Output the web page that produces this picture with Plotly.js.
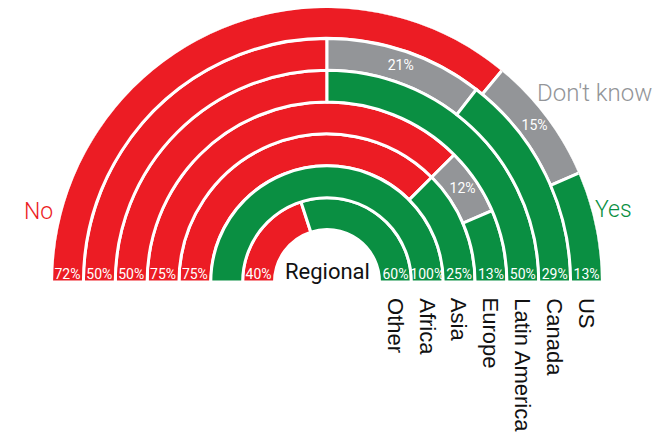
<!DOCTYPE html>
<html>
<head>
<meta charset="utf-8">
<script src="https://cdn.plot.ly/plotly-3.0.1.min.js"></script>
<style>html,body{margin:0;padding:0;background:#fff}</style>
</head>
<body>
<div id="chart" style="width:667px;height:435px"></div>
<script>
// Survey answers by region, one ring per region (innermost first), in percent
const categories = ['Other', 'Africa', 'Asia', 'Europe', 'Latin America', 'Canada', 'US'];
const noPct = [40, 0, 75, 75, 50, 50, 72];
const dontKnowPct = [0, 0, 0, 12, 0, 21, 15];
const yesPct = [60, 100, 25, 13, 50, 29, 13];
const centerLabel = 'Regional';
const answerLabels = ['No', "Don't know", 'Yes'];

const COLORS = { no: '#ec1c24', dk: '#939598', yes: '#0a8f42' };
const HOLE = 52.5;          // radial start of the innermost ring
const STEP = 31.85;         // radial thickness of one ring (incl. white gap)
const R_MAX = 274;          // radial axis extent
const DEG_PER_PCT = 180 / 100;
const LINE_W = 3;

const noStart = noPct.map(() => 0);
const dkStart = noPct.slice();
const yesStart = noPct.map((v, i) => v + dontKnowPct[i]);

function ringMid(i) { return HOLE + i * STEP + STEP / 2; }

function ringBars(name, values, starts, color) {
  const theta = [], width = [], base = [], r = [];
  values.forEach((v, i) => {
    if (v <= 0) return;
    theta.push((starts[i] + v / 2) * DEG_PER_PCT);
    width.push(v * DEG_PER_PCT);
    base.push(HOLE + i * STEP);
    r.push(STEP);
  });
  return {
    type: 'barpolar', name, theta, width, base, r,
    marker: { color, line: { color: '#ffffff', width: LINE_W } },
    hoverinfo: 'skip', showlegend: false
  };
}

const pctFont = { family: 'Roboto, sans-serif', size: 14, color: '#ffffff' };

function endLabels(values, thetaPos) {
  const r = [], theta = [], text = [];
  values.forEach((v, i) => {
    if (v <= 0) return;
    r.push(ringMid(i)); theta.push(thetaPos); text.push(v + '%');
  });
  return {
    type: 'scatterpolar', mode: 'text', r, theta, text,
    textposition: 'top center', cliponaxis: false, textfont: pctFont,
    hoverinfo: 'skip', showlegend: false
  };
}

function dkLabels() {
  const r = [], theta = [], text = [];
  dontKnowPct.forEach((v, i) => {
    if (v <= 0) return;
    r.push(ringMid(i));
    theta.push((dkStart[i] + v / 2) * DEG_PER_PCT);
    text.push(v + '%');
  });
  return {
    type: 'scatterpolar', mode: 'text', r, theta, text,
    textposition: 'middle center', cliponaxis: false, textfont: pctFont,
    hoverinfo: 'skip', showlegend: false
  };
}

const traces = [
  ringBars('No', noPct, noStart, COLORS.no),
  ringBars("Don't know", dontKnowPct, dkStart, COLORS.dk),
  ringBars('Yes', yesPct, yesStart, COLORS.yes),
  endLabels(noPct, 0),
  endLabels(yesPct, 180),
  dkLabels(),
  // anchors the flat x/y frame used for the labels around the half-disc
  { type: 'scatter', x: [], y: [], xaxis: 'x', yaxis: 'y', hoverinfo: 'skip', showlegend: false }
];

const domX = [53 / 667, 601 / 667];
const domY = [153 / 435, 427 / 435];

const annotations = categories.map((c, i) => ({
  xref: 'x', yref: 'y', x: ringMid(i), y: 0,
  text: c, showarrow: false, textangle: 90,
  xanchor: 'center', yanchor: 'top', yshift: -14,
  font: { family: '"Liberation Sans", Arial, sans-serif', size: 22, color: '#111111' }
}));

annotations.push(
  { xref: 'x', yref: 'y', x: 0, y: 0, yanchor: 'bottom', xanchor: 'center', showarrow: false, yshift: -4,
    text: centerLabel, font: { family: 'Roboto, sans-serif', size: 22, color: '#111111' } },
  { xref: 'paper', yref: 'paper', x: 38 / 667, y: 224 / 435, xanchor: 'center', yanchor: 'middle', showarrow: false,
    text: answerLabels[0], font: { family: 'Roboto, sans-serif', size: 23, color: COLORS.no, weight: 300 } },
  { xref: 'x', yref: 'y', x: 208, y: 189, xanchor: 'left', yanchor: 'middle', showarrow: false,
    text: answerLabels[1], font: { family: 'Roboto, sans-serif', size: 24, color: COLORS.dk, weight: 300 } },
  { xref: 'paper', yref: 'paper', x: 613 / 667, y: 225 / 435, xanchor: 'center', yanchor: 'middle', showarrow: false,
    text: answerLabels[2], font: { family: 'Roboto, sans-serif', size: 23, color: COLORS.yes, weight: 300 } }
);

const layout = {
  width: 667, height: 435,
  margin: { l: 0, r: 0, t: 0, b: 0, pad: 0 },
  paper_bgcolor: '#ffffff', plot_bgcolor: 'rgba(0,0,0,0)',
  showlegend: false,
  polar: {
    domain: { x: domX, y: domY },
    sector: [0, 180],
    barmode: 'overlay',
    bgcolor: 'rgba(0,0,0,0)',
    radialaxis: { visible: false, range: [0, R_MAX] },
    angularaxis: { visible: false, direction: 'clockwise', rotation: 180, thetaunit: 'degrees', showgrid: false }
  },
  xaxis: { domain: domX, range: [-R_MAX, R_MAX], visible: false, fixedrange: true },
  yaxis: { domain: domY, range: [0, R_MAX], visible: false, fixedrange: true },
  annotations
};

Plotly.newPlot('chart', traces, layout, { displayModeBar: false, staticPlot: true });
</script>
</body>
</html>
